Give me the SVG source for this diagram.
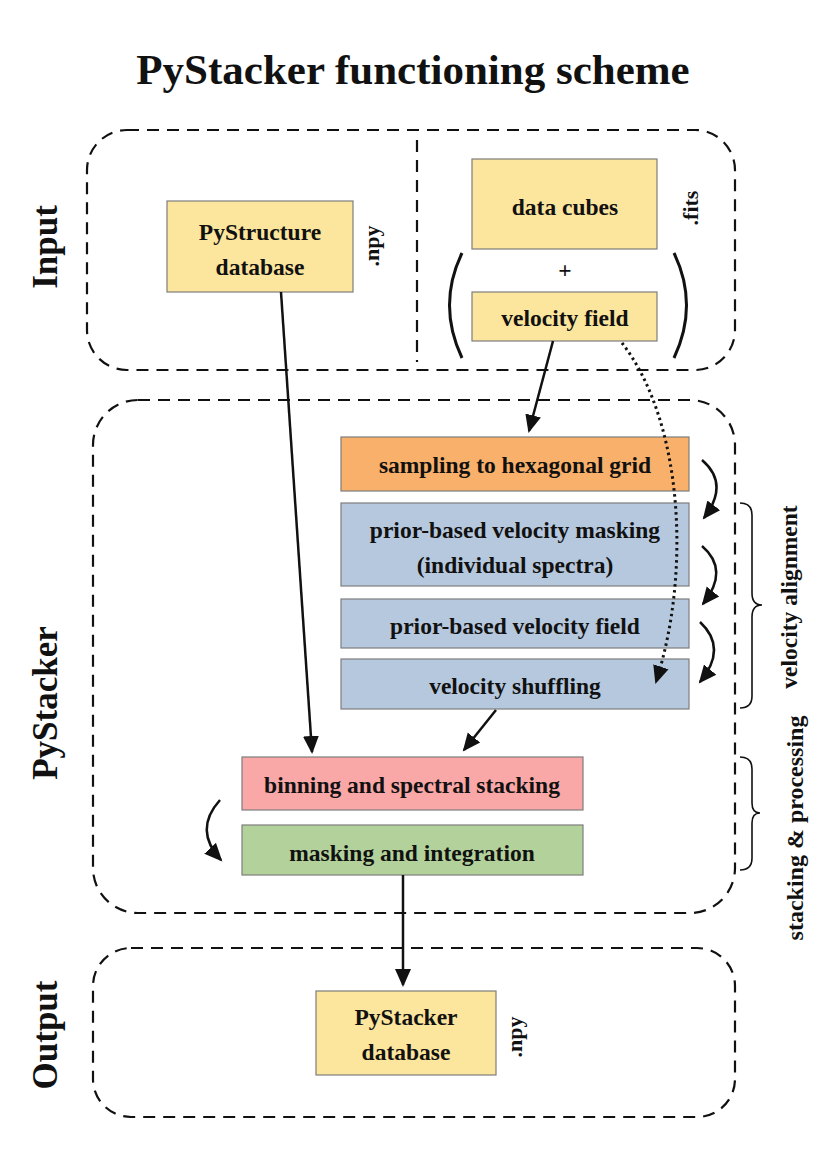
<svg xmlns="http://www.w3.org/2000/svg" width="830" height="1175" viewBox="0 0 830 1175">
<style>
text{font-family:"Liberation Serif","Times New Roman",serif;font-weight:bold;fill:#111}
.lbl{font-size:23.5px;text-anchor:middle}
.side{font-size:35px;text-anchor:middle}
.ext{font-size:22px;text-anchor:middle}
.grp{fill:none;stroke:#111;stroke-width:2.2;stroke-dasharray:12 8}
.box{stroke:#7d7d7d;stroke-width:1.2}
.y{fill:#fce59c}.o{fill:#f9b06b}.b{fill:#b6c8de}.p{fill:#f9a7a7}.g{fill:#b3d19a}
.c{fill:none;stroke:#111;stroke-width:2.5}
.par{fill:none;stroke:#111;stroke-width:3}
.d{fill:none;stroke:#111;stroke-width:3;stroke-dasharray:2.5 3.5}
.br{fill:none;stroke:#111;stroke-width:1.6}
</style>
<defs>
<marker id="ah" markerUnits="userSpaceOnUse" markerWidth="20" markerHeight="18" refX="16" refY="9" orient="auto">
<path d="M0,1 L18,9 L0,17 Z" fill="#111"/>
</marker>
</defs>
<text x="413" y="84" style="font-size:43px;text-anchor:middle">PyStacker functioning scheme</text>
<g id="groups">
<rect class="grp" x="87" y="130" width="648" height="240" rx="40"/>
<line class="grp" x1="417" y1="140" x2="417" y2="362"/>
<rect class="grp" x="93" y="400" width="642" height="513" rx="45"/>
<rect class="grp" x="93" y="948" width="642" height="169" rx="38"/>
<text class="side" transform="translate(57,247) rotate(-90)">Input</text>
<text class="side" transform="translate(57,703) rotate(-90)">PyStacker</text>
<text class="side" transform="translate(57,1035) rotate(-90)">Output</text>
</g>
<g id="pystructure">
<rect class="box y" x="167" y="201" width="186" height="91"/>
<text class="lbl" x="260" y="240">PyStructure</text>
<text class="lbl" x="260" y="275">database</text>
<text class="ext" transform="translate(379,246) rotate(-90)">.npy</text>
</g>
<g id="datacubes">
<rect class="box y" x="472" y="159" width="185" height="90"/>
<text class="lbl" x="565" y="215">data cubes</text>
<text class="ext" transform="translate(698,208) rotate(-90)">.fits</text>
</g>
<g id="plus">
<text class="lbl" x="565" y="278">+</text>
<path class="par" d="M462,253 Q437,305 462,358"/>
<path class="par" d="M674,253 Q699,305 674,358"/>
</g>
<g id="velfield">
<rect class="box y" x="472" y="292" width="185" height="49"/>
<text class="lbl" x="565" y="326">velocity field</text>
</g>
<g id="sampling">
<rect class="box o" x="341" y="437" width="348" height="54"/>
<text class="lbl" x="515" y="473">sampling to hexagonal grid</text>
</g>
<g id="masking">
<rect class="box b" x="341" y="503" width="348" height="83"/>
<text class="lbl" x="515" y="538">prior-based velocity masking</text>
<text class="lbl" x="515" y="573">(individual spectra)</text>
</g>
<g id="priorfield">
<rect class="box b" x="341" y="599" width="348" height="49"/>
<text class="lbl" x="515" y="634">prior-based velocity field</text>
</g>
<g id="shuffling">
<rect class="box b" x="341" y="659" width="348" height="50"/>
<text class="lbl" x="515" y="694">velocity shuffling</text>
</g>
<g id="binning">
<rect class="box p" x="242" y="757" width="341" height="53"/>
<text class="lbl" x="412" y="793">binning and spectral stacking</text>
</g>
<g id="integration">
<rect class="box g" x="242" y="825" width="341" height="50"/>
<text class="lbl" x="412" y="861">masking and integration</text>
</g>
<g id="output">
<rect class="box y" x="316" y="991" width="180" height="84"/>
<text class="lbl" x="406" y="1025">PyStacker</text>
<text class="lbl" x="406" y="1060">database</text>
<text class="ext" transform="translate(522,1037) rotate(-90)">.npy</text>
</g>
<g id="braces">
<path class="br" d="M740,503 Q752,503 752,515 L752,593 Q752,605 762,605 Q752,605 752,617 L752,696 Q752,708 740,708"/>
<text class="lbl" transform="translate(797,597) rotate(-90)">velocity alignment</text>
<path class="br" d="M740,757 Q752,757 752,769 L752,803 Q752,813 760,813 Q752,813 752,823 L752,858 Q752,870 740,870"/>
<text class="lbl" style="font-size:24px" transform="translate(803,828) rotate(-90)">stacking &amp; processing</text>
</g>
<g id="connectors">
<line class="c" x1="281" y1="292" x2="312" y2="752" marker-end="url(#ah)"/>
<line class="c" x1="553" y1="341" x2="529" y2="431" marker-end="url(#ah)"/>
<line class="c" x1="496" y1="710" x2="464" y2="750" marker-end="url(#ah)"/>
<line class="c" x1="403" y1="875" x2="403" y2="985" marker-end="url(#ah)"/>
<path class="d" d="M622,343 C682,420 692,570 656,682" marker-end="url(#ah)"/>
<path class="c" d="M702,460 Q730,484 704,518" marker-end="url(#ah)"/>
<path class="c" d="M702,546 Q730,570 703,604" marker-end="url(#ah)"/>
<path class="c" d="M700,622 Q728,648 700,682" marker-end="url(#ah)"/>
<path class="c" d="M220,800 Q193,830 221,860" marker-end="url(#ah)"/>
</g>
</svg>
